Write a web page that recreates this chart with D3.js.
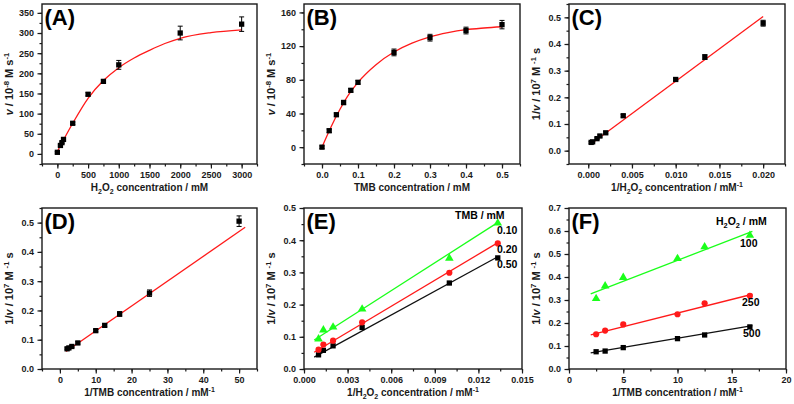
<!DOCTYPE html>
<html><head><meta charset="utf-8">
<script src="https://cdn.jsdelivr.net/npm/d3@7"></script>
<style>
html,body{margin:0;padding:0;background:#fff;}
svg{display:block;font-family:"Liberation Sans",Arial,sans-serif;font-weight:bold;}
</style></head>
<body><svg id="c" width="794" height="404"></svg>
<script>
// ---------- DATA ----------
// Panel A: v vs H2O2
const aX = [0, 50, 75, 100, 250, 500, 750, 1000, 2000, 3000];
const aY = [4, 21, 28, 36, 76, 148, 180, 221, 300, 322];
const aErr = [2, 2, 2, 3, 3, 4, 4, 11, 17, 18];
const aFitX = [0, 250, 500, 750, 1000, 1250, 1500, 1750, 2000, 2500, 3000];
const aFitY = [6, 76, 138, 182, 214, 238, 257, 274, 287, 301, 308];
// Panel B: v vs TMB
const bX = [0, 0.02, 0.04, 0.06, 0.08, 0.1, 0.2, 0.3, 0.4, 0.5];
const bY = [0, 19.5, 38.5, 53, 67.5, 77, 112.5, 130, 138.5, 145.5];
const bErr = [1.5, 2, 2, 2.5, 2, 2, 4, 4, 4, 5];
const bFitX = [0, 0.025, 0.05, 0.075, 0.1, 0.15, 0.2, 0.25, 0.3, 0.35, 0.4, 0.45, 0.5];
const bFitY = [0, 24, 45, 63, 77, 98, 113, 123.5, 131, 136, 139.5, 141.5, 143];
// Panel C: 1/v vs 1/H2O2
const cX = [0.000333, 0.0005, 0.001, 0.001333, 0.002, 0.004, 0.01, 0.013333, 0.02];
const cY = [0.031, 0.033, 0.045, 0.055, 0.067, 0.131, 0.267, 0.351, 0.478];
const cErr = [0.003, 0.003, 0.003, 0.004, 0.004, 0.005, 0.005, 0.009, 0.011];
const cFitX = [0.0003, 0.02];
const cFitY = [0.025, 0.503];
// Panel D: 1/v vs 1/TMB
const dX = [2, 2.5, 3.33, 5, 10, 12.5, 16.67, 25, 50];
const dY = [0.069, 0.072, 0.077, 0.089, 0.131, 0.149, 0.188, 0.259, 0.505];
const dErr = [0.003, 0.003, 0.003, 0.004, 0.004, 0.005, 0.008, 0.011, 0.018];
const dFitX = [1.7, 51.7];
const dFitY = [0.060, 0.484];
// Panel E: 1/v vs 1/H2O2 at several TMB
const eX = [0.001, 0.001333, 0.002, 0.004, 0.01, 0.013333];
const eY010 = [0.093, 0.121, 0.130, 0.186, 0.344, 0.453];
const eY020 = [0.060, 0.076, 0.088, 0.145, 0.299, 0.390];
const eY050 = [0.044, 0.058, 0.072, 0.129, 0.267, 0.345];
const eFitX = [0.0007, 0.0134];
const eFit010 = [0.090, 0.457];
const eFit020 = [0.052, 0.394];
const eFit050 = [0.037, 0.350];
const eLabels = ["0.10", "0.20", "0.50"];
// Panel F: 1/v vs 1/TMB at several H2O2
const fX = [2.5, 3.33, 5, 10, 12.5, 16.67];
const fY100 = [0.306, 0.361, 0.398, 0.480, 0.531, 0.581];
const fY250 = [0.151, 0.167, 0.194, 0.238, 0.286, 0.318];
const fY500 = [0.075, 0.078, 0.093, 0.132, 0.148, 0.183];
const fFitX = [2, 16.9];
const fFit100 = [0.327, 0.598];
const fFit250 = [0.148, 0.325];
const fFit500 = [0.070, 0.189];
const fLabels = ["100", "250", "500"];
// tick labels
const aXTicks = [0, 500, 1000, 1500, 2000, 2500, 3000];
const aYTicks = [0, 50, 100, 150, 200, 250, 300, 350];
const bXTicks = [0, 0.1, 0.2, 0.3, 0.4, 0.5];
const bYTicks = [0, 40, 80, 120, 160];
const cXTicks = [0, 0.005, 0.01, 0.015, 0.02];
const cYTicks = [0, 0.1, 0.2, 0.3, 0.4, 0.5];
const dXTicks = [0, 10, 20, 30, 40, 50];
const dYTicks = [0, 0.1, 0.2, 0.3, 0.4, 0.5];
const eXTicks = [0, 0.003, 0.006, 0.009, 0.012, 0.015];
const eYTicks = [0, 0.1, 0.2, 0.3, 0.4, 0.5];
const fXTicks = [0, 5, 10, 15, 20];
const fYTicks = [0, 0.1, 0.2, 0.3, 0.4, 0.5, 0.6, 0.7];

// ---------- DRAWING ----------
const svg = d3.select("#c");
const INK = "#1a1a1a";
const RED = "#ff1a1a", GREEN = "#1aff1a", BLACK = "#111";

function rich(sel, parts, size) {
  // parts: [text, mode] where mode: undefined | 'sub' | 'sup' | 'i'
  let pending = 0;
  parts.forEach(p => {
    const [t, m] = p;
    const ts = sel.append("tspan").text(t);
    let dy = pending;
    pending = 0;
    if (m === 'sub' || m === 'sup') {
      const sh = m === 'sub' ? size * 0.3 : -size * 0.4;
      dy += sh;
      pending = -sh;
      ts.attr("font-size", size * 0.7);
    } else if (m === 'i') {
      ts.attr("font-style", "italic");
    }
    if (dy !== 0) ts.attr("dy", dy);
  });
}

function minorVals(dom, step) {
  const out = [];
  const s = Math.ceil(dom[0] / step - 1e-9), e = Math.floor(dom[1] / step + 1e-9);
  for (let i = s; i <= e; i++) out.push(+(i * step).toFixed(10));
  return out;
}

function panel(cfg) {
  const g = svg.append("g");
  const x = d3.scaleLinear().domain(cfg.xDom).range([cfg.l, cfg.r]);
  const y = d3.scaleLinear().domain(cfg.yDom).range([cfg.b, cfg.t]);

  // minor ticks
  g.append("g").attr("transform", `translate(0,${cfg.b})`)
    .call(d3.axisBottom(x).tickValues(minorVals(cfg.xDom, cfg.xMinor)).tickSize(2.5).tickFormat(""))
    .call(s => { s.select(".domain").remove(); s.selectAll("text").remove(); });
  g.append("g").attr("transform", `translate(${cfg.l},0)`)
    .call(d3.axisLeft(y).tickValues(minorVals(cfg.yDom, cfg.yMinor)).tickSize(2.5).tickFormat(""))
    .call(s => { s.select(".domain").remove(); s.selectAll("text").remove(); });
  // major ticks
  const xa = g.append("g").attr("transform", `translate(0,${cfg.b})`)
    .call(d3.axisBottom(x).tickValues(cfg.xTicks).tickSize(4.5).tickPadding(3.5).tickFormat(d3.format(cfg.xFmt)));
  const ya = g.append("g").attr("transform", `translate(${cfg.l},0)`)
    .call(d3.axisLeft(y).tickValues(cfg.yTicks).tickSize(4.5).tickPadding(3.5).tickFormat(d3.format(cfg.yFmt)));
  [xa, ya].forEach(a => {
    a.select(".domain").remove();
    a.selectAll("text").attr("font-family", null).attr("font-size", 9).attr("fill", INK).attr("font-weight", "bold");
  });
  g.selectAll(".tick line").attr("stroke", INK).attr("stroke-width", 1.2);

  // frame
  g.append("rect").attr("x", cfg.l).attr("y", cfg.t).attr("width", cfg.r - cfg.l).attr("height", cfg.b - cfg.t)
    .attr("fill", "none").attr("stroke", INK).attr("stroke-width", 1.4);

  // titles
  const xt = g.append("text").attr("x", (cfg.l + cfg.r) / 2).attr("y", cfg.b + 27)
    .attr("text-anchor", "middle").attr("font-size", 10).attr("fill", INK);
  rich(xt, cfg.xTitle, 10);
  const cy = (cfg.t + cfg.b) / 2 + (cfg.yTitleOff || 0);
  const yt = g.append("text").attr("transform", `translate(${cfg.l - 29},${cy}) rotate(-90)`)
    .attr("text-anchor", "middle").attr("font-size", 11).attr("fill", INK);
  rich(yt, cfg.yTitle, 11);

  // panel label
  g.append("text").attr("x", cfg.l + 2.5).attr("y", cfg.t + 21).attr("font-size", 22).attr("fill", "#000").text(cfg.label);

  // series
  cfg.series.forEach(s => {
    const line = d3.line().x(d => x(d[0])).y(d => y(d[1]));
    if (s.curve) line.curve(d3.curveMonotoneX);
    g.append("path").datum(d3.zip(s.fitX, s.fitY)).attr("d", line)
      .attr("fill", "none").attr("stroke", s.lineColor).attr("stroke-width", 1.3);
    const pts = s.xs.map((xv, i) => ({ x: xv, y: s.ys[i], e: s.err ? s.err[i] : 0 }));
    if (s.err) {
      const eg = g.append("g").attr("stroke", "#000").attr("stroke-width", 1);
      pts.forEach(p => {
        const px = x(p.x), y1 = y(p.y - p.e), y2 = y(p.y + p.e);
        eg.append("line").attr("x1", px).attr("x2", px).attr("y1", y1).attr("y2", y2);
        eg.append("line").attr("x1", px - 2.5).attr("x2", px + 2.5).attr("y1", y1).attr("y2", y1);
        eg.append("line").attr("x1", px - 2.5).attr("x2", px + 2.5).attr("y1", y2).attr("y2", y2);
      });
    }
    const sym = s.shape === "tri" ? d3.symbolTriangle : s.shape === "circle" ? d3.symbolCircle : d3.symbolSquare;
    const size = s.shape === "tri" ? 32 : s.shape === "circle" ? 30 : 28;
    g.selectAll(null).data(pts).join("path")
      .attr("transform", d => `translate(${x(d.x)},${y(d.y)})`)
      .attr("d", d3.symbol().type(sym).size(size))
      .attr("fill", s.markColor);
  });

  // annotations
  (cfg.notes || []).forEach(n => {
    const t = g.append("text").attr("x", n.x).attr("y", n.y).attr("font-size", 10.5).attr("fill", "#000");
    rich(t, n.parts, 10.5);
  });
}

const yTitleV = [["v", "i"], [" / 10"], ["-8", "sup"], [" M s"], ["-1", "sup"]];
const yTitleInv = [["1/"], ["v", "i"], [" / 10"], ["7", "sup"], [" M "], ["-1", "sup"], [" s"]];

panel({
  label: "(A)", l: 42, r: 257, t: 4, b: 164,
  xDom: [-250, 3250], yDom: [-25, 372], xTicks: aXTicks, yTicks: aYTicks, xMinor: 250, yMinor: 25,
  xFmt: "d", yFmt: "d",
  xTitle: [["H"], ["2", "sub"], ["O"], ["2", "sub"], [" concentration / mM"]],
  yTitle: yTitleV,
  series: [{ xs: aX, ys: aY, err: aErr, fitX: aFitX, fitY: aFitY, curve: true, lineColor: RED, markColor: "#000", shape: "sq" }]
});
panel({
  label: "(B)", l: 304, r: 520, t: 4, b: 164,
  xDom: [-0.05, 0.55], yDom: [-20, 170], xTicks: bXTicks, yTicks: bYTicks, xMinor: 0.05, yMinor: 20,
  xFmt: ".1f", yFmt: "d",
  xTitle: [["TMB concentration / mM"]],
  yTitle: yTitleV,
  series: [{ xs: bX, ys: bY, err: bErr, fitX: bFitX, fitY: bFitY, curve: true, lineColor: RED, markColor: "#000", shape: "sq" }]
});
panel({
  label: "(C)", l: 569, r: 785, t: 4, b: 164,
  xDom: [-0.0022, 0.0225], yDom: [-0.05, 0.55], xTicks: cXTicks, yTicks: cYTicks, xMinor: 0.0025, yMinor: 0.05,
  xFmt: ".3f", yFmt: ".1f",
  xTitle: [["1/H"], ["2", "sub"], ["O"], ["2", "sub"], [" concentration / mM"], ["-1", "sup"]],
  yTitle: yTitleInv,
  series: [{ xs: cX, ys: cY, err: cErr, fitX: cFitX, fitY: cFitY, lineColor: RED, markColor: "#000", shape: "sq" }]
});
panel({
  label: "(D)", l: 42, r: 257, t: 208, b: 369,
  xDom: [-5, 55], yDom: [0, 0.55], xTicks: dXTicks, yTicks: dYTicks, xMinor: 5, yMinor: 0.05,
  xFmt: "d", yFmt: ".1f",
  xTitle: [["1/TMB concentration / mM"], ["-1", "sup"]],
  yTitle: yTitleInv,
  series: [{ xs: dX, ys: dY, err: dErr, fitX: dFitX, fitY: dFitY, lineColor: RED, markColor: "#000", shape: "sq" }]
});
panel({
  label: "(E)", l: 304, r: 522, t: 208, b: 369,
  xDom: [0, 0.015], yDom: [0, 0.5], xTicks: eXTicks, yTicks: eYTicks, xMinor: 0.0015, yMinor: 0.05,
  xFmt: ".3f", yFmt: ".1f",
  xTitle: [["1/H"], ["2", "sub"], ["O"], ["2", "sub"], [" concentration / mM"], ["-1", "sup"]],
  yTitle: yTitleInv,
  series: [
    { xs: eX, ys: eY050, fitX: eFitX, fitY: eFit050, lineColor: BLACK, markColor: "#000", shape: "sq" },
    { xs: eX, ys: eY020, fitX: eFitX, fitY: eFit020, lineColor: RED, markColor: RED, shape: "circle" },
    { xs: eX, ys: eY010, fitX: eFitX, fitY: eFit010, lineColor: GREEN, markColor: GREEN, shape: "tri" }
  ],
  notes: [
    { x: 455, y: 219, parts: [["TMB / mM"]] },
    { x: 497, y: 234, parts: [[eLabels[0]]] },
    { x: 497, y: 253, parts: [[eLabels[1]]] },
    { x: 497, y: 268, parts: [[eLabels[2]]] }
  ]
});
panel({
  label: "(F)", l: 569, r: 786, t: 208, b: 369,
  xDom: [0, 20], yDom: [0, 0.7], xTicks: fXTicks, yTicks: fYTicks, xMinor: 2.5, yMinor: 0.05,
  xFmt: "d", yFmt: ".1f",
  xTitle: [["1/TMB concentration / mM"], ["-1", "sup"]],
  yTitle: yTitleInv,
  series: [
    { xs: fX, ys: fY500, fitX: fFitX, fitY: fFit500, lineColor: BLACK, markColor: "#000", shape: "sq" },
    { xs: fX, ys: fY250, fitX: fFitX, fitY: fFit250, lineColor: RED, markColor: RED, shape: "circle" },
    { xs: fX, ys: fY100, fitX: fFitX, fitY: fFit100, lineColor: GREEN, markColor: GREEN, shape: "tri" }
  ],
  notes: [
    { x: 716, y: 225, parts: [["H"], ["2", "sub"], ["O"], ["2", "sub"], [" / mM"]] },
    { x: 740, y: 247, parts: [[fLabels[0]]] },
    { x: 742, y: 306, parts: [[fLabels[1]]] },
    { x: 743, y: 337, parts: [[fLabels[2]]] }
  ]
});
</script></body></html>
